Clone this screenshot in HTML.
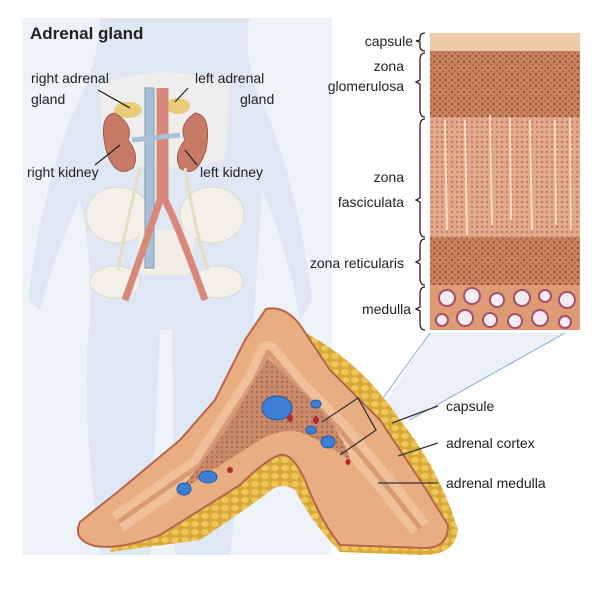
<!DOCTYPE html>
<html><head><meta charset="utf-8"><style>
html,body{margin:0;padding:0;background:#fff}
svg{display:block}
text{font-family:"Liberation Sans",sans-serif;fill:#222}
</style></head><body>
<svg width="606" height="608" viewBox="0 0 606 608" xmlns="http://www.w3.org/2000/svg">
<defs>
<pattern id="dots" width="6" height="6" patternUnits="userSpaceOnUse">
<rect width="6" height="6" fill="#c9825f"/><circle cx="2" cy="2" r="0.9" fill="#6e2e1e"/><circle cx="5" cy="5" r="0.7" fill="#8a3f2a"/>
</pattern>
<pattern id="dots2" width="5" height="5" patternUnits="userSpaceOnUse">
<rect width="5" height="5" fill="#e3a98a"/><circle cx="2" cy="2" r="0.7" fill="#8a3f2a"/>
</pattern>
<pattern id="fat" width="10" height="8" patternUnits="userSpaceOnUse">
<rect width="10" height="8" fill="#d9a83a"/><ellipse cx="5" cy="4" rx="4" ry="3" fill="#eec557"/>
</pattern>
<pattern id="inner" width="5" height="5" patternUnits="userSpaceOnUse">
<rect width="5" height="5" fill="#c98a6a"/><circle cx="2" cy="2" r="0.9" fill="#9a4e38"/>
</pattern>
</defs>
<rect x="22" y="18" width="310" height="537" fill="#eef2f9"/>
<path d="M100 18 L250 18 Q240 60 270 120 Q300 200 312 300 L300 320 Q285 240 262 190 L255 300 Q250 380 230 555 L175 555 L172 330 L160 330 L150 555 L100 555 Q80 400 90 320 Q92 250 80 200 Q60 240 40 310 L28 300 Q40 200 70 120 Q100 60 100 18Z" fill="#dfe7f4"/>
<path d="M100 85 Q165 60 230 85 L225 160 Q165 175 105 160Z" fill="#f2f0ea" opacity="0.8"/>
<ellipse cx="118" cy="215" rx="32" ry="28" fill="#f3f1ea" stroke="#dcd8cc"/>
<ellipse cx="212" cy="215" rx="32" ry="28" fill="#f3f1ea" stroke="#dcd8cc"/>
<ellipse cx="115" cy="282" rx="25" ry="16" fill="#f3f1ea" stroke="#dcd8cc"/>
<ellipse cx="218" cy="282" rx="25" ry="16" fill="#f3f1ea" stroke="#dcd8cc"/>
<rect x="138" y="230" width="56" height="45" rx="10" fill="#f0eee6"/>
<ellipse cx="128" cy="110" rx="14" ry="8" fill="#e8cc7a"/>
<ellipse cx="178" cy="106" rx="12" ry="8" fill="#e8cc7a"/>
<path d="M115 113 Q98 115 106 150 Q115 180 133 168 Q140 155 128 140 Q134 125 115 113Z" fill="#c77b67" stroke="#a05a48"/>
<path d="M195 113 Q212 115 206 150 Q196 180 180 168 Q173 155 185 140 Q178 125 195 113Z" fill="#c77b67" stroke="#a05a48"/>
<rect x="145" y="88" width="9" height="180" fill="#aac0d6" stroke="#7f9ab4"/>
<path d="M160 88 L160 200 Q150 230 125 300 M165 88 L165 200 Q180 230 205 300" stroke="#d8887a" stroke-width="7" fill="none"/>
<path d="M132 140 L180 135" stroke="#aac0d6" stroke-width="5"/>
<path d="M140 168 Q125 230 118 270 M185 168 Q195 230 208 270" stroke="#e6dcc0" stroke-width="3" fill="none"/>
<g stroke="#222" stroke-width="1.2">
<line x1="98" y1="90" x2="130" y2="108"/><line x1="188" y1="88" x2="175" y2="102"/>
<line x1="95" y1="165" x2="120" y2="145"/><line x1="197" y1="165" x2="185" y2="150"/>
</g>
<text x="30" y="39" font-size="17" font-weight="bold">Adrenal gland</text>
<g font-size="14">
<text x="31" y="83">right adrenal</text><text x="31" y="104">gland</text>
<text x="195" y="83">left adrenal</text><text x="240" y="104">gland</text>
<text x="27" y="177">right kidney</text><text x="200" y="177">left kidney</text>
</g>
<rect x="430" y="33" width="150" height="18" fill="#f0c9a8"/>
<rect x="430" y="51" width="150" height="66" fill="url(#dots)"/>
<rect x="430" y="117" width="150" height="120" fill="url(#dots2)"/>
<g stroke="#f5dcc4" stroke-width="2">
<line x1="445" y1="120" x2="447" y2="230"/><line x1="465" y1="120" x2="467" y2="235"/><line x1="490" y1="115" x2="492" y2="225"/><line x1="510" y1="118" x2="511" y2="220"/><line x1="530" y1="120" x2="532" y2="230"/><line x1="555" y1="120" x2="556" y2="225"/><line x1="570" y1="118" x2="571" y2="230"/>
</g>
<rect x="430" y="237" width="150" height="48" fill="url(#dots)"/>
<rect x="430" y="285" width="150" height="45" fill="#dd9a74"/>
<g fill="#f7eaf0" stroke="#a0506a" stroke-width="2">
<circle cx="447" cy="298" r="8"/><circle cx="472" cy="296" r="8"/><circle cx="497" cy="300" r="7"/><circle cx="522" cy="298" r="8"/><circle cx="545" cy="296" r="6"/><circle cx="567" cy="300" r="8"/>
<circle cx="442" cy="320" r="6"/><circle cx="465" cy="318" r="8"/><circle cx="490" cy="320" r="7"/><circle cx="515" cy="321" r="7"/><circle cx="540" cy="318" r="8"/><circle cx="565" cy="322" r="6"/>
</g>
<g stroke="#222" stroke-width="1.3" fill="none">
<path d="M425 33 Q420 33 420 38 L420 40 L416 41 L420 42 L420 46 Q420 51 425 51"/>
<path d="M425 53 Q420 53 420 60 L420 80 L416 82 L420 84 L420 110 Q420 117 425 117"/>
<path d="M425 119 Q420 119 420 126 L420 198 L416 200 L420 202 L420 230 Q420 237 425 237"/>
<path d="M425 239 Q420 239 420 246 L420 260 L416 262 L420 264 L420 278 Q420 285 425 285"/>
<path d="M425 287 Q420 287 420 294 L420 307 L416 309 L420 311 L420 323 Q420 330 425 330"/>
</g>
<g font-size="14" text-anchor="end">
<text x="413" y="46">capsule</text>
<text x="404" y="71">zona</text><text x="404" y="91">glomerulosa</text>
<text x="404" y="182">zona</text><text x="404" y="207">fasciculata</text>
<text x="404" y="268">zona reticularis</text>
<text x="411" y="314">medulla</text>
</g>
<path d="M430 333 L380 410 L410 420 L565 333Z" fill="#dde6f5" opacity="0.6"/>
<line x1="430" y1="333" x2="378" y2="405" stroke="#88aadd"/>
<line x1="565" y1="333" x2="410" y2="420" stroke="#88aadd"/>
<!-- fat -->
<path d="M300 330 Q360 360 400 420 Q440 470 458 530 Q455 556 420 555 L340 552 Q310 520 295 490 Q280 480 265 495 Q230 520 200 540 L110 552 Q130 500 180 470 Q220 440 240 390 Z" fill="url(#fat)"/>
<!-- gland -->
<path d="M266 309 Q285 305 300 325 L330 370 L380 420 L420 480 L448 525 Q448 548 425 548 L340 545 Q320 520 305 480 Q292 452 280 455 Q265 460 240 485 L160 535 Q120 550 95 546 Q72 540 80 522 L120 490 L180 440 L215 400 L245 340 Z" fill="#e8ae82" stroke="#b8644a" stroke-width="2"/>
<path d="M118 522 L200 465 L255 380 L268 352 L300 390 L340 430 L390 490 L420 528" fill="none" stroke="#f0c09a" stroke-width="22" stroke-linejoin="round"/>
<path d="M118 522 L200 465 L255 380 L268 352 L300 390 L340 430 L390 490 L420 528" fill="none" stroke="#d89a74" stroke-width="5" stroke-linejoin="round"/>
<path d="M268 358 Q295 385 325 415 Q345 440 350 460 Q320 440 300 432 Q280 428 260 440 Q220 465 175 495 Q210 455 232 420 Q252 385 268 358Z" fill="url(#inner)"/>
<g fill="#3d7fd4" stroke="#1f5aa8">
<ellipse cx="277" cy="408" rx="15" ry="12"/><ellipse cx="316" cy="404" rx="5" ry="4"/><ellipse cx="311" cy="430" rx="5" ry="4"/>
<ellipse cx="328" cy="442" rx="7" ry="6"/><ellipse cx="208" cy="477" rx="9" ry="6"/><ellipse cx="184" cy="489" rx="7" ry="6"/>
</g>
<g fill="#b02a30"><ellipse cx="290" cy="418" rx="3" ry="4"/><ellipse cx="316" cy="420" rx="3" ry="4"/><ellipse cx="230" cy="470" rx="3" ry="3"/><ellipse cx="348" cy="462" rx="2.5" ry="3"/></g>
<g stroke="#333" stroke-width="1.3" fill="none">
<path d="M322 422 L358 398 L376 430 L340 455"/>
<line x1="438" y1="406" x2="392" y2="423"/>
<line x1="438" y1="443" x2="398" y2="456"/>
<line x1="438" y1="483" x2="378" y2="483"/>
</g>
<g font-size="14">
<text x="446" y="411">capsule</text>
<text x="446" y="448">adrenal cortex</text>
<text x="446" y="488">adrenal medulla</text>
</g>
</svg>
</body></html>
